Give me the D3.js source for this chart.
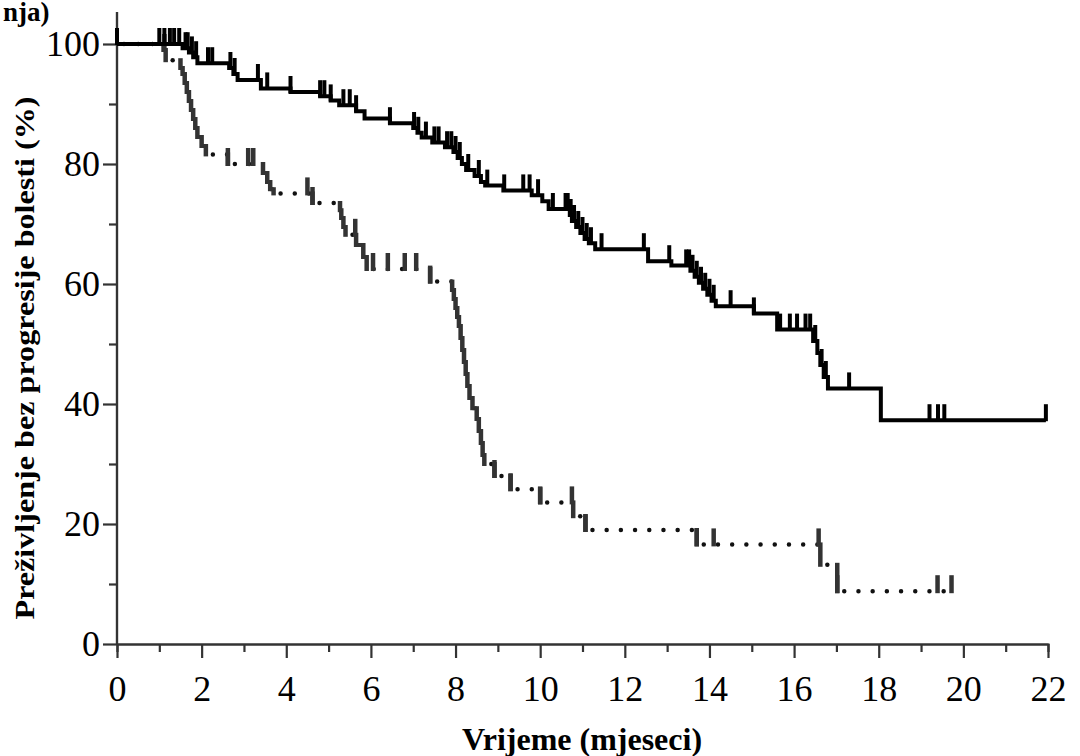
<!DOCTYPE html>
<html>
<head>
<meta charset="utf-8">
<script src="https://cdn.jsdelivr.net/npm/d3@7"></script>
<style>
  body { margin: 0; background: #fff; }
  text { font-family: "Liberation Serif", "Times New Roman", serif; }
</style>
</head>
<body>
<div id="chart"></div>
<script>
// --- data ---
// solid curve: step times (months) and survival (%) from that time on
var solidTimes = [0, 1.55, 1.70, 1.80, 1.90, 2.65, 2.75, 2.85, 3.40, 4.10, 4.80, 5.05, 5.25, 5.65, 5.85, 6.45,
    7.00, 7.10, 7.20, 7.45, 7.75, 7.95, 8.05, 8.15, 8.25, 8.45, 8.60, 8.70, 9.13, 9.80, 10.05, 10.20,
    10.70, 10.75, 10.85, 10.95, 11.05, 11.15, 11.30, 12.55, 13.10, 13.55, 13.65, 13.75, 13.85, 13.95,
    14.05, 14.15, 15.05, 15.60, 16.45, 16.55, 16.62, 16.70, 16.80, 18.05];
var solidSurv = [100, 99.3, 98.6, 97.8, 96.8, 96.0, 95.0, 94.0, 92.6, 92.0, 91.3, 90.6, 89.8, 88.8, 87.6, 86.8,
    86.0, 85.2, 84.4, 83.6, 82.8, 82.0, 81.0, 80.0, 79.0, 78.0, 77.0, 76.4, 75.6, 74.8, 73.8, 72.5,
    71.5, 70.5, 69.5, 68.5, 67.5, 66.8, 65.8, 63.8, 63.1, 62.2, 61.2, 60.2, 59.2, 58.2,
    57.2, 56.3, 55.1, 52.4, 50.5, 48.5, 46.5, 44.5, 42.6, 37.3];
var solidEnd = 21.95;
var solidCensor = [0, 1.0, 1.12, 1.25, 1.35, 1.47, 1.62, 1.67, 1.77, 1.87, 2.15, 2.25, 2.68, 2.78, 3.33, 3.55, 4.1,
    4.8, 4.9, 5.05, 5.35, 5.5, 5.65, 6.45, 7.02, 7.12, 7.3, 7.5, 7.6, 7.8, 7.9, 8.0, 8.1, 8.3, 8.55,
    8.75, 9.15, 9.6, 9.75, 9.95, 10.3, 10.6, 10.65, 10.72, 10.8, 10.9, 11.0, 11.1, 11.2, 11.45, 12.45,
    13.05, 13.45, 13.52, 13.6, 13.7, 13.8, 13.9, 14.0, 14.1, 14.5, 15.05, 15.67, 15.9, 16.07, 16.27,
    16.38, 16.5, 16.65, 16.75, 17.3, 19.2, 19.4, 19.55, 21.95];

// dotted curve
var dotTimes = [0, 1.10, 1.15, 1.50, 1.55, 1.60, 1.65, 1.70, 1.75, 1.80, 1.85, 1.90, 2.00, 2.10, 2.62,
    3.45, 3.55, 3.62, 3.70, 4.62, 5.27, 5.30, 5.35, 5.40, 5.65, 5.82, 5.90, 7.40,
    7.92, 7.96, 8.00, 8.04, 8.08, 8.12, 8.16, 8.20, 8.24, 8.28, 8.33, 8.40, 8.50, 8.55, 8.60, 8.64, 8.68,
    8.92, 9.30, 10.00, 10.78, 11.07, 13.70, 16.62, 17.02];
var dotSurv = [100, 99.0, 97.3, 96.0, 95.0, 93.5, 92.0, 90.5, 89.0, 87.5, 86.0, 84.5, 83.0, 81.6, 80.0,
    78.5, 77.0, 75.8, 75.1, 73.5, 72.3, 71.0, 69.5, 68.2, 66.5, 64.5, 62.5, 60.4,
    59.0, 57.5, 56.0, 54.5, 53.0, 51.0, 49.0, 47.0, 45.0, 43.0, 41.0, 39.3, 37.5, 35.5, 33.5, 31.5, 30.0,
    28.0, 25.8, 23.6, 21.3, 19.0, 16.6, 13.2, 8.8];
var dotEnd = 19.72;
var dotCensor = [1.12, 2.62, 3.1, 3.22, 4.5, 4.62, 5.63, 6.05, 6.4, 6.8, 7.07, 7.4, 8.92, 9.3, 10.0, 10.75,
    11.07, 13.7, 14.1, 16.58, 17.02, 19.39, 19.72];

var xMajor = [0, 2, 4, 6, 8, 10, 12, 14, 16, 18, 20, 22];
var xMinor = [1, 3, 5, 7, 9, 11, 13, 15, 17, 19, 21];
var yMajor = [0, 20, 40, 60, 80, 100];
var yMinor = [10, 30, 50, 70, 90];

var xTitle = "Vrijeme (mjeseci)";
var yTitle = "Preživljenje bez progresije bolesti (%)";
var cornerText = "nja)";

// --- layout ---
var width = 1080, height = 756;
var svg = d3.select("#chart").append("svg")
    .attr("width", width)
    .attr("height", height);

var x = d3.scaleLinear().domain([0, 22]).range([117, 1048]);
var y = d3.scaleLinear().domain([0, 100]).range([644, 44]);
var axisColor = "#333";
var censorH = 16;

function survAt(times, surv, t) {
    var s = surv[0];
    for (var i = 0; i < times.length; i++) {
        if (times[i] <= t + 1e-9) s = surv[i];
    }
    return s;
}

// axes
var gy = svg.append("g").attr("transform", "translate(" + x(0) + ",0)");
gy.call(d3.axisLeft(y).tickValues(yMajor).tickSize(14).tickPadding(3).tickSizeOuter(0));
gy.append("g").call(d3.axisLeft(y).tickValues(yMinor).tickSize(8).tickFormat(""));
gy.selectAll(".domain").attr("d", "M0,12V" + y(0));

var gx = svg.append("g").attr("transform", "translate(0," + y(0) + ")");
gx.call(d3.axisBottom(x).tickValues(xMajor).tickSize(14).tickPadding(17).tickSizeOuter(0));
gx.append("g").call(d3.axisBottom(x).tickValues(xMinor).tickSize(8).tickFormat(""));

svg.selectAll(".domain, .tick line")
    .attr("stroke", axisColor)
    .attr("stroke-width", 2.2);
svg.selectAll(".tick text")
    .attr("fill", "#000")
    .style("font-family", "'Liberation Serif', serif")
    .style("font-size", "36px");

// solid curve
var solidPts = solidTimes.map(function (t, i) { return [t, solidSurv[i]]; });
solidPts.push([solidEnd, solidSurv[solidSurv.length - 1]]);
var stepLine = d3.line()
    .x(function (d) { return x(d[0]); })
    .y(function (d) { return y(d[1]); })
    .curve(d3.curveStepAfter);

// dotted curve: dotted horizontals, solid gray drops
var dotColor = "#333";
var hSegs = dotTimes.map(function (t, i) {
    var t2 = i < dotTimes.length - 1 ? dotTimes[i + 1] : dotEnd;
    return {t1: t, t2: t2, s: dotSurv[i]};
});
var shortSegs = hSegs.filter(function (d) { return x(d.t2) - x(d.t1) < 10; });
var longSegs = hSegs.filter(function (d) { return x(d.t2) - x(d.t1) >= 10; });

svg.append("g").selectAll("line")
    .data(longSegs)
    .enter().append("line")
    .attr("x1", function (d) { return x(d.t1) + 7; })
    .attr("x2", function (d) { return x(d.t2); })
    .attr("y1", function (d) { return y(d.s); })
    .attr("y2", function (d) { return y(d.s); })
    .attr("stroke", "#111")
    .attr("stroke-width", 4.5)
    .attr("stroke-linecap", "round")
    .attr("stroke-dasharray", "0,14.2");

svg.append("g").selectAll("line")
    .data(shortSegs)
    .enter().append("line")
    .attr("x1", function (d) { return x(d.t1); })
    .attr("x2", function (d) { return x(d.t2); })
    .attr("y1", function (d) { return y(d.s); })
    .attr("y2", function (d) { return y(d.s); })
    .attr("stroke", dotColor)
    .attr("stroke-width", 4);

var vSegs = dotTimes.slice(1).map(function (t, i) {
    return {t: t, s1: dotSurv[i], s2: dotSurv[i + 1]};
});
svg.append("g").selectAll("line")
    .data(vSegs)
    .enter().append("line")
    .attr("x1", function (d) { return x(d.t); })
    .attr("x2", function (d) { return x(d.t); })
    .attr("y1", function (d) { return y(d.s1) - 2; })
    .attr("y2", function (d) { return y(d.s2) + 2; })
    .attr("stroke", dotColor)
    .attr("stroke-width", 4.5);

svg.append("g").selectAll("line")
    .data(dotCensor)
    .enter().append("line")
    .attr("x1", function (d) { return x(d); })
    .attr("x2", function (d) { return x(d); })
    .attr("y1", function (d) { return y(survAt(dotTimes, dotSurv, d)) + 2; })
    .attr("y2", function (d) { return y(survAt(dotTimes, dotSurv, d)) - censorH; })
    .attr("stroke", dotColor)
    .attr("stroke-width", 4.5);

// solid drawn on top
svg.append("path")
    .datum(solidPts)
    .attr("d", stepLine)
    .attr("fill", "none")
    .attr("stroke", "#000")
    .attr("stroke-width", 4);

svg.append("g").selectAll("line")
    .data(solidCensor)
    .enter().append("line")
    .attr("x1", function (d) { return x(d); })
    .attr("x2", function (d) { return x(d); })
    .attr("y1", function (d) { return y(survAt(solidTimes, solidSurv, d)) + 1; })
    .attr("y2", function (d) { return y(survAt(solidTimes, solidSurv, d)) - censorH; })
    .attr("stroke", "#000")
    .attr("stroke-width", 4);

// titles
svg.append("text")
    .text(xTitle)
    .attr("x", 582)
    .attr("y", 750)
    .attr("text-anchor", "middle")
    .attr("font-weight", "bold")
    .attr("font-size", 32);

svg.append("text")
    .text(yTitle)
    .attr("transform", "translate(34,358) rotate(-90)")
    .attr("text-anchor", "middle")
    .attr("font-weight", "bold")
    .attr("font-size", 28)
    .attr("textLength", 523)
    .attr("lengthAdjust", "spacingAndGlyphs");

svg.append("text")
    .text(cornerText)
    .attr("x", 3)
    .attr("y", 21)
    .attr("font-weight", "bold")
    .attr("font-size", 27);
</script>
</body>
</html>
